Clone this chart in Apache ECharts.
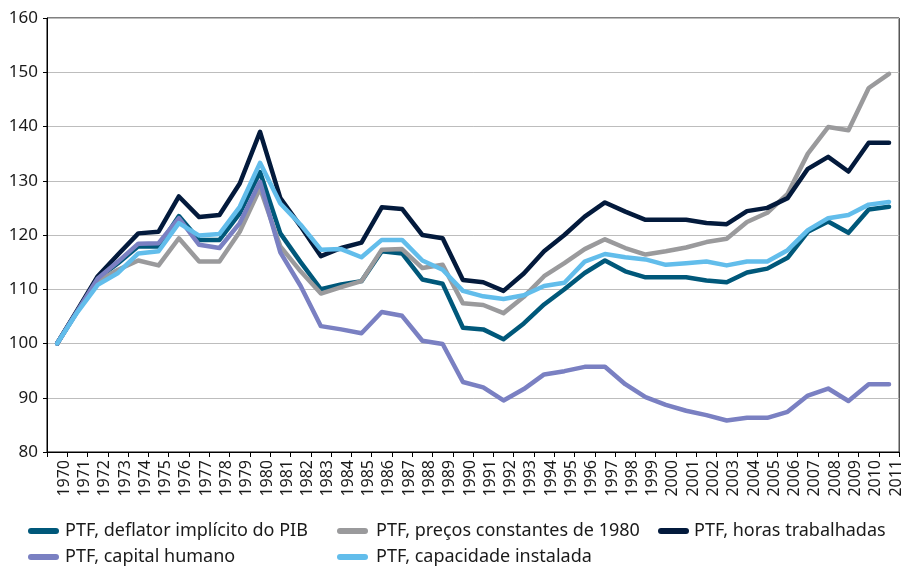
<!DOCTYPE html>
<html>
<head>
<meta charset="utf-8">
<script src="https://cdn.jsdelivr.net/npm/echarts@6/dist/echarts.min.js"></script>
<style>
  html, body { margin: 0; padding: 0; background: #fff; }
  #chart { width: 904px; height: 566px; }
</style>
</head>
<body>
<div id="chart"></div>
<script>
const years = ['1970', '1971', '1972', '1973', '1974', '1975', '1976', '1977', '1978', '1979',
  '1980', '1981', '1982', '1983', '1984', '1985', '1986', '1987', '1988', '1989',
  '1990', '1991', '1992', '1993', '1994', '1995', '1996', '1997', '1998', '1999',
  '2000', '2001', '2002', '2003', '2004', '2005', '2006', '2007', '2008', '2009',
  '2010', '2011']

// PTF, deflator implícito do PIB
const deflator = [100, 106, 112, 114.8, 117.9, 117.9, 123.5, 119.1, 119.1, 124.0,
  131.6, 120.3, 115, 110.0, 110.9, 111.5, 117.0, 116.6, 111.8, 111.0,
  102.9, 102.6, 100.8, 103.7, 107.2, 110.0, 113.0, 115.3, 113.3, 112.2,
  112.2, 112.2, 111.6, 111.3, 113.1, 113.8, 115.8, 120.6, 122.5, 120.4,
  124.7, 125.2]

// PTF, preços constantes de 1980
const precos1980 = [100, 106, 111.5, 113.6, 115.3, 114.4, 119.4, 115.1, 115.1, 120.6,
  128.6, 117.9, 113.3, 109.2, 110.4, 111.5, 117.3, 117.4, 113.9, 114.5,
  107.4, 107.1, 105.6, 108.6, 112.4, 114.8, 117.4, 119.2, 117.6, 116.4,
  117.0, 117.7, 118.7, 119.3, 122.4, 124.1, 127.6, 135.0, 139.9, 139.3,
  147.1, 149.7]

// PTF, horas trabalhadas
const horas = [100, 106.2, 112.4, 116.4, 120.3, 120.6, 127.1, 123.3, 123.7, 129.5,
  139.0, 126.8, 121.6, 116.1, 117.6, 118.6, 125.1, 124.8, 120.0, 119.4,
  111.7, 111.3, 109.7, 112.9, 117.0, 120.0, 123.4, 126.0, 124.3, 122.8,
  122.8, 122.8, 122.2, 122.0, 124.4, 125.0, 126.8, 132.2, 134.4, 131.7,
  137.0, 137.0]

// PTF, capital humano
const capitalHumano = [100, 106, 112, 115.1, 118.4, 118.5, 123.1, 118.2, 117.6, 122.2,
  129.8, 116.8, 110.6, 103.2, 102.6, 101.9, 105.8, 105.1, 100.5, 99.9,
  92.9, 91.9, 89.5, 91.6, 94.3, 94.9, 95.7, 95.7, 92.5, 90.1,
  88.7, 87.6, 86.8, 85.8, 86.3, 86.3, 87.4, 90.4, 91.7, 89.4,
  92.5, 92.5]

// PTF, capacidade instalada
const capacidade = [100, 105.8, 110.8, 113.0, 116.6, 117.0, 122.2, 119.9, 120.2, 125.2,
  133.3, 125.8, 121.9, 117.3, 117.4, 115.9, 119.1, 119.1, 115.3, 113.6,
  109.7, 108.7, 108.2, 108.9, 110.6, 111.2, 115.1, 116.5, 115.9, 115.5,
  114.5, 114.8, 115.1, 114.4, 115.1, 115.1, 117.2, 120.9, 123.1, 123.7,
  125.6, 126.1]

const fontFamily = 'Noto Sans'
const pill = 'path://M3,0 L28,0 A3,3 0 0 1 28,6 L3,6 A3,3 0 0 1 3,0 Z'

const seriesDefs = [
  { name: 'PTF, deflator implícito do PIB', data: deflator, color: '#00587a' },
  { name: 'PTF, preços constantes de 1980', data: precos1980, color: '#9a9a9c' },
  { name: 'PTF, horas trabalhadas', data: horas, color: '#031a3c' },
  { name: 'PTF, capital humano', data: capitalHumano, color: '#7a80c2' },
  { name: 'PTF, capacidade instalada', data: capacidade, color: '#62bdeb' }
]

// legenda em duas linhas, posições fixas
const legendPos = [
  { left: 28, top: 520, gap: 1 },
  { left: 337, top: 520, gap: 3 },
  { left: 658, top: 520, gap: 0 },
  { left: 28, top: 546, gap: 1 },
  { left: 337, top: 546, gap: 3 }
]

const chart = echarts.init(document.getElementById('chart'))
chart.setOption({
  animation: false,
  textStyle: { fontFamily },
  grid: {
    left: 47,
    right: 3,
    top: 18,
    bottom: 114,
    show: true,
    borderColor: '#000',
    borderWidth: 1
  },
  legend: seriesDefs.map((s, i) => ({
    data: [s.name],
    left: legendPos[i].left,
    top: legendPos[i].top,
    padding: 0,
    icon: pill,
    itemWidth: 31,
    itemHeight: 6,
    textStyle: {
      fontFamily,
      fontSize: 18,
      lineHeight: 22,
      color: '#1a1a1a',
      padding: [0, 0, 0, legendPos[i].gap]
    }
  })),
  xAxis: {
    type: 'category',
    data: years,
    boundaryGap: true,
    axisLine: { lineStyle: { color: '#000', width: 1 } },
    axisTick: { show: true, interval: 0, length: 5, lineStyle: { color: '#000' } },
    axisLabel: {
      interval: 0,
      rotate: 90,
      margin: 8,
      fontSize: 16,
      lineHeight: 14,
      verticalAlign: 'top', // com a rotação, desloca o rótulo para a direita
      color: '#1a1a1a',
      fontFamily
    }
  },
  yAxis: {
    type: 'value',
    min: 80,
    max: 160,
    interval: 10,
    axisLine: { show: true, lineStyle: { color: '#000', width: 1 } },
    axisTick: { show: true, length: 4, lineStyle: { color: '#000' } },
    axisLabel: { fontSize: 17, color: '#1a1a1a', margin: 9, fontFamily },
    splitLine: { lineStyle: { color: '#bdbdbd', width: 1 } }
  },
  series: seriesDefs.map(s => ({
    name: s.name,
    type: 'line',
    data: s.data,
    symbol: 'none',
    color: s.color,
    lineStyle: { width: 4.5, color: s.color, cap: 'round', join: 'round' }
  }))
})
</script>
</body>
</html>
